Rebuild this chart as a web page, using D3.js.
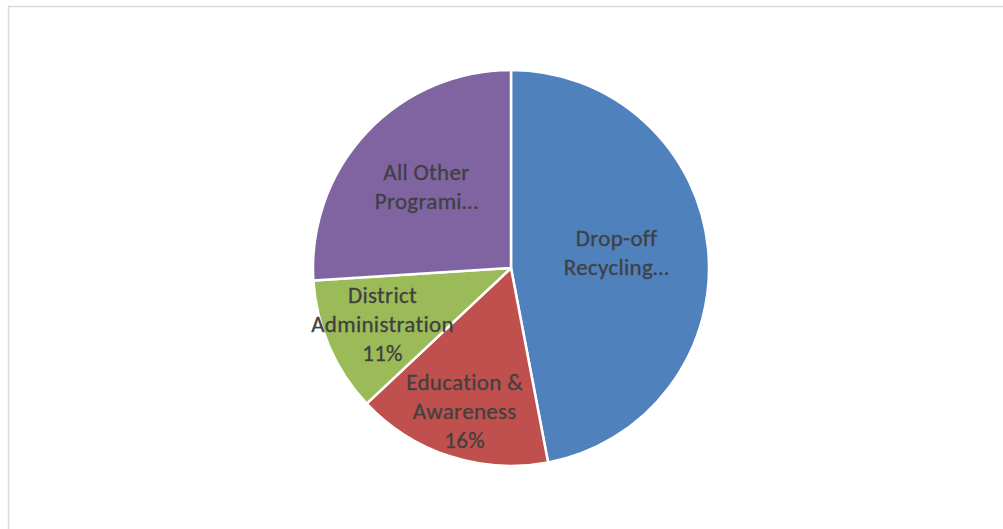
<!DOCTYPE html>
<html>
<head>
<meta charset="utf-8">
<script src="https://cdn.jsdelivr.net/npm/d3@7"></script>
<style>
  body { margin: 0; background: #fff; }
  .slice-label { font-family: Carlito, 'Open Sans', sans-serif; font-size: 23px; letter-spacing: 0.3px; fill: #404040; stroke: #404040; stroke-width: 0.3px; }
</style>
</head>
<body>
<div id="chart"></div>
<script>
var width = 1003;
var height = 529;

// chart data
var categories = ['Drop-off Recycling…', 'Education & Awareness', 'District Administration', 'All Other Programi…'];
var values = [47, 16, 11, 26];
var labelLines = [
  ['Drop-off', 'Recycling…'],
  ['Education &', 'Awareness', '16%'],
  ['District', 'Administration', '11%'],
  ['All Other', 'Programi…']
];

var colors = ['#4f81bd', '#c0504d', '#9bbb59', '#8064a2'];
// label placement: distance from centre + small vertical nudge (Excel "best fit")
var labelRadius = [106, 150, 140, 116];
var labelNudge = [-6, 0, 0, -2];

var cx = 511;
var cy = 268;
var radius = 198;

var svg = d3
  .select('#chart')
  .append('svg')
  .attr('width', width)
  .attr('height', height);

// chart area border
svg
  .append('rect')
  .attr('x', 8.5)
  .attr('y', 6.5)
  .attr('width', width)
  .attr('height', height)
  .attr('fill', 'none')
  .attr('stroke', '#d9d9d9')
  .attr('stroke-width', 1.5);

var graph = svg.append('g').attr('transform', 'translate(' + cx + ',' + cy + ')');

var data = categories.map((c, i) => ({ name: c, value: values[i], lines: labelLines[i], idx: i }));

var pie = d3.pie().sort(null).value(d => d.value);
var arc = d3.arc().innerRadius(0).outerRadius(radius);
var arcs = pie(data);

graph
  .selectAll('path')
  .data(arcs)
  .enter()
  .append('path')
  .attr('d', arc)
  .attr('fill', d => colors[d.data.idx])
  .attr('stroke', '#fff')
  .attr('stroke-width', 2.5)
  .attr('stroke-linejoin', 'round');

var lineHeight = 29;

var labels = graph
  .selectAll('text.slice-label')
  .data(arcs)
  .enter()
  .append('text')
  .attr('class', 'slice-label')
  .attr('text-anchor', 'middle')
  .attr('transform', d => {
    var a = (d.startAngle + d.endAngle) / 2;
    var r = labelRadius[d.data.idx];
    return 'translate(' + Math.sin(a) * r + ',' + (-Math.cos(a) * r + labelNudge[d.data.idx]) + ')';
  });

labels
  .selectAll('tspan')
  .data(d => d.data.lines.map((t, j, arr) => ({ t: t, dy: (j - (arr.length - 1) / 2) * lineHeight })))
  .enter()
  .append('tspan')
  .attr('x', 0)
  .attr('y', d => d.dy)
  .attr('dy', '0.35em')
  .text(d => d.t);
</script>
</body>
</html>
